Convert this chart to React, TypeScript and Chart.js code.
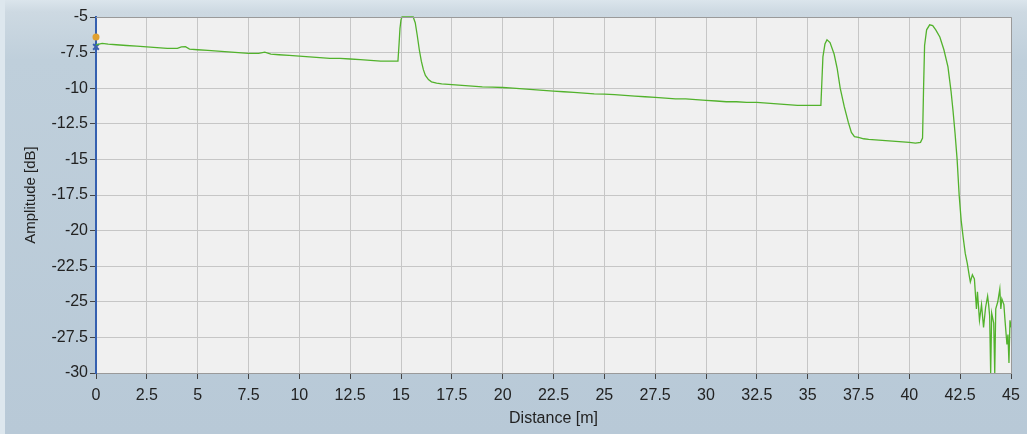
import React, { useEffect, useRef } from "react";
import { Chart, registerables } from "chart.js";
Chart.register(...registerables);

const distances = [
  0.0, 0.3, 0.6, 1.0, 1.5, 2.0, 2.5, 3.0, 3.5, 4.0, 4.2, 4.4, 4.6, 5.0, 5.5, 6.0, 6.5, 7.0, 7.5, 8.0, 8.3, 8.6,
  9.0, 9.5, 10.0, 10.5, 11.0, 11.5, 12.0, 12.5, 13.0, 13.5, 14.0, 14.5, 14.85, 14.9, 14.95, 15.0, 15.05, 15.6,
  15.7, 15.8, 15.9, 16.0, 16.1, 16.2, 16.35, 16.5, 16.75, 17.0, 17.5, 18.0, 18.5, 19.0, 19.5, 20.0, 20.5, 21.0,
  21.5, 22.0, 22.5, 23.0, 23.5, 24.0, 24.5, 25.0, 25.5, 26.0, 26.5, 27.0, 27.5, 28.0, 28.5, 29.0, 29.5, 30.0,
  30.5, 31.0, 31.5, 32.0, 32.5, 33.0, 33.5, 34.0, 34.5, 35.0, 35.5, 35.65, 35.7, 35.75, 35.85, 35.95, 36.1,
  36.3, 36.45, 36.6, 36.8, 37.0, 37.15, 37.3, 37.5, 37.75, 38.0, 38.5, 39.0, 39.5, 40.0, 40.3, 40.55, 40.65,
  40.7, 40.75, 40.85, 41.0, 41.15, 41.3, 41.5, 41.7, 41.9, 42.05, 42.15, 42.25, 42.35, 42.45, 42.55, 42.65,
  42.75, 42.85, 42.95, 43.0, 43.1, 43.2, 43.3, 43.35, 43.45, 43.55, 43.65, 43.75, 43.85, 43.9, 43.95, 44.0,
  44.05, 44.15, 44.2, 44.25, 44.35, 44.45, 44.5, 44.55, 44.65, 44.7, 44.8, 44.85, 44.9, 44.95, 45.0,
];

const amplitudes = [
  -6.95, -6.85, -6.9, -6.95, -7.0, -7.05, -7.1, -7.15, -7.2, -7.2, -7.1, -7.08, -7.25, -7.3, -7.35, -7.4, -7.45,
  -7.5, -7.55, -7.55, -7.47, -7.6, -7.65, -7.7, -7.75, -7.8, -7.85, -7.9, -7.9, -7.95, -8.0, -8.05, -8.1, -8.1,
  -8.1, -7.0, -5.8, -5.2, -5.0, -5.0, -5.4, -6.3, -7.3, -8.1, -8.7, -9.1, -9.4, -9.55, -9.65, -9.7, -9.75, -9.8,
  -9.85, -9.9, -9.92, -9.95, -10.0, -10.05, -10.1, -10.15, -10.2, -10.25, -10.3, -10.35, -10.4, -10.42, -10.45,
  -10.5, -10.55, -10.6, -10.65, -10.7, -10.75, -10.75, -10.8, -10.85, -10.9, -10.95, -10.95, -11.0, -11.0,
  -11.05, -11.1, -11.15, -11.2, -11.2, -11.2, -11.2, -9.5, -7.8, -6.9, -6.6, -6.8, -7.6, -8.6, -10.0, -11.3,
  -12.4, -13.1, -13.4, -13.45, -13.55, -13.6, -13.65, -13.7, -13.75, -13.8, -13.85, -13.8, -13.5, -10.0, -7.0,
  -5.9, -5.55, -5.6, -5.9, -6.4, -7.3, -8.5, -10.2, -11.6, -13.2, -15.0, -17.5, -19.3, -20.5, -21.6, -22.3,
  -23.2, -23.6, -23.1, -23.4, -25.5, -24.3, -26.3, -25.2, -26.8, -25.4, -24.6, -25.2, -26.0, -30.0, -25.8,
  -26.5, -30.0, -25.5, -25.0, -24.1, -25.5, -24.8, -25.2, -26.2, -28.0, -27.3, -29.3, -26.3, -26.8,
];

const markerDistances = [0, 0];
const markerAmplitudes = [-6.4, -7.1];

const xMin = 0, xMax = 45, xStep = 2.5;
const yMin = -30, yMax = -5, yStep = 2.5;

const FONT = "'Liberation Sans', Arial, sans-serif";

export default function App() {
  const ref = useRef<HTMLCanvasElement | null>(null);
  useEffect(() => {
    document.body.style.margin = "0";
    const bgPlugin = {
      id: "plotbg",
      beforeDraw(chart: any) {
        const { ctx, chartArea: a } = chart;
        ctx.save();
        ctx.fillStyle = "#f0f0f0";
        ctx.fillRect(a.left, a.top, a.right - a.left, a.bottom - a.top);
        ctx.restore();
      },
      afterDatasetsDraw(chart: any) {
        const { ctx, chartArea: a } = chart;
        ctx.save();
        ctx.strokeStyle = "#9a9a9a";
        ctx.lineWidth = 1;
        ctx.beginPath();
        ctx.moveTo(a.left, a.top + 0.5);
        ctx.lineTo(a.right + 0.5, a.top + 0.5);
        ctx.lineTo(a.right + 0.5, a.bottom);
        ctx.stroke();
        ctx.restore();
      },
    };
    const chart = new Chart(ref.current!, {
      type: "line",
      data: {
        datasets: [
          {
            data: distances.map((d, i) => ({ x: d, y: amplitudes[i] })),
            borderColor: "#52b22c",
            borderWidth: 1.3,
            pointRadius: 0,
            tension: 0,
            clip: 2,
          },
          {
            type: "scatter",
            data: markerDistances.map((d, i) => ({ x: d, y: markerAmplitudes[i] })),
            pointBackgroundColor: ["#e0a030", "#3a5fb0"],
            pointBorderColor: ["#e0a030", "#3a5fb0"],
            pointStyle: ["circle", "crossRot"],
            pointRadius: [2.5, 4],
            borderWidth: 2,
            clip: 8,
          } as any,
        ],
      },
      plugins: [bgPlugin],
      options: {
        animation: false,
        responsive: false,
        maintainAspectRatio: false,
        layout: { padding: { top: 17, right: 16, left: 0, bottom: 0 } },
        plugins: { legend: { display: false }, tooltip: { enabled: false } },
        scales: {
          x: {
            type: "linear",
            min: xMin,
            max: xMax,
            afterFit: (s: any) => { s.height = 61; },
            afterBuildTicks: (s: any) => {
              const t = [];
              for (let v = xMin; v <= xMax + 1e-9; v += xStep) t.push({ value: v });
              s.ticks = t;
            },
            ticks: {
              autoSkip: false,
              maxRotation: 0,
              padding: 7,
              color: "#222",
              font: { family: FONT, size: 16 },
              callback: (v: any) => String(v),
            },
            grid: { color: "#c6c6c6", tickColor: "#444", tickLength: 6, lineWidth: 1 },
            border: { color: "#9a9a9a", width: 1 },
            title: {
              display: true,
              text: "Distance [m]",
              color: "#222",
              font: { family: FONT, size: 16 },
              padding: { top: 6, bottom: 6 },
            },
          },
          y: {
            type: "linear",
            min: yMin,
            max: yMax,
            afterFit: (s: any) => { s.width = 96; },
            afterBuildTicks: (s: any) => {
              const t = [];
              for (let v = yMin; v <= yMax + 1e-9; v += yStep) t.push({ value: v });
              s.ticks = t;
            },
            ticks: {
              autoSkip: false,
              padding: 2,
              color: "#222",
              font: { family: FONT, size: 16 },
              callback: (v: any) => String(v),
            },
            grid: { color: "#c6c6c6", tickColor: "#444", tickLength: 6, lineWidth: 1 },
            border: { color: "#3560b0", width: 2 },
            title: {
              display: true,
              text: "Amplitude [dB]",
              color: "#222",
              font: { family: FONT, size: 15 },
              padding: { top: 22, bottom: 22 },
            },
          },
        },
      },
    });
    return () => chart.destroy();
  }, []);

  return (
    <div
      style={{
        position: "fixed",
        left: 0,
        top: 0,
        width: 1027,
        height: 434,
        background: "linear-gradient(180deg, #dbe5ec 0px, #cdd9e2 12px, #bfcfdb 60px, #b8c9d7 434px)",
        boxShadow: "inset 5px 0 0 #dde7ee",
      }}
    >
      <canvas ref={ref} width={1027} height={434} style={{ display: "block" }} />
    </div>
  );
}
